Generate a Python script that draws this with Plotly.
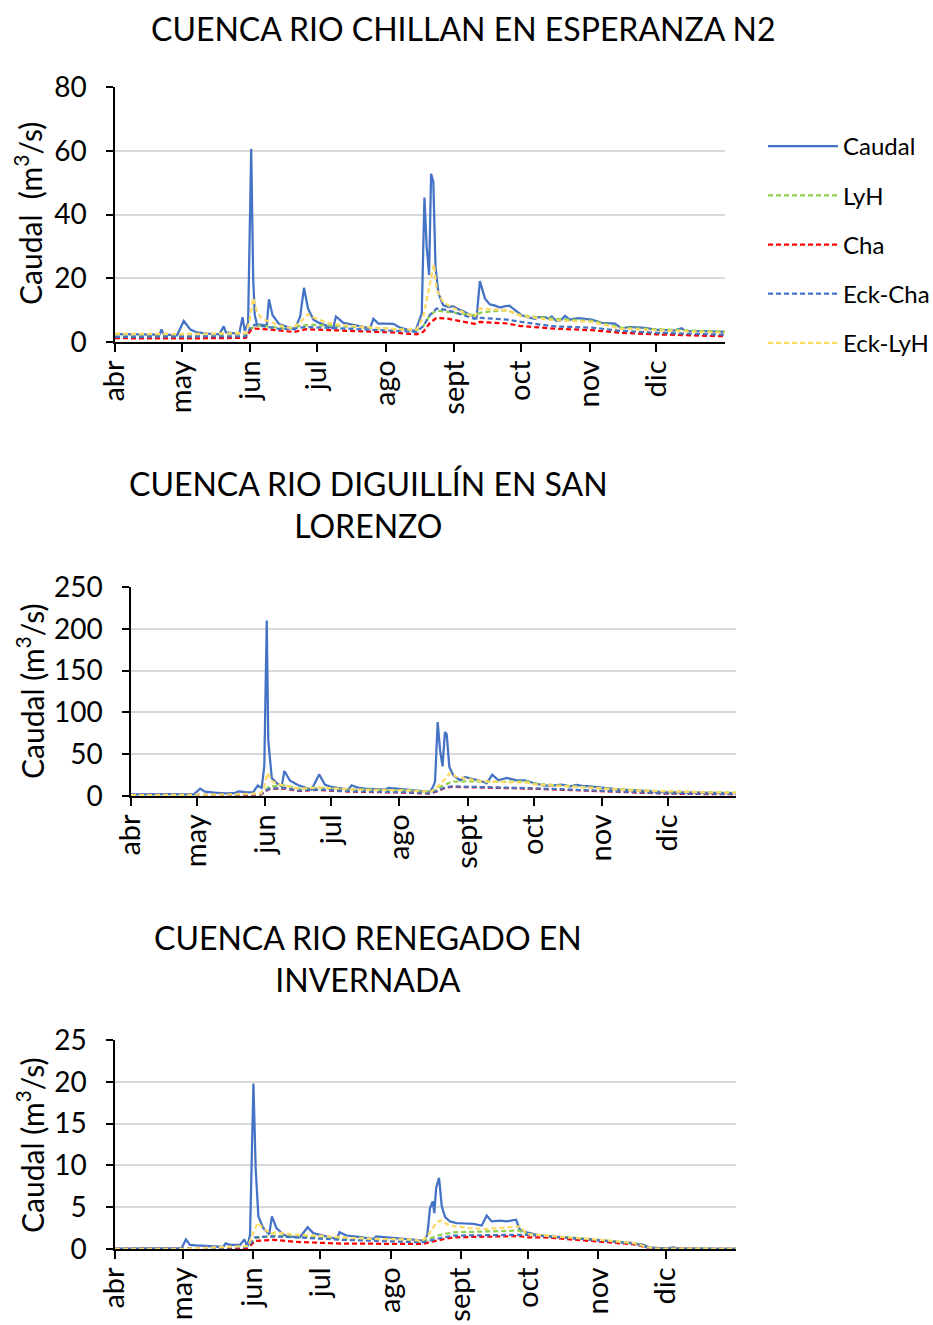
import pandas as pd
import plotly.graph_objects as go

START = pd.Timestamp("2019-04-01")
MONTH_TICKS = ["2019-04-01", "2019-05-01", "2019-06-01", "2019-07-01", "2019-08-01",
               "2019-09-01", "2019-10-01", "2019-11-01", "2019-12-01"]
MONTH_LABELS = ["abr", "may", "jun", "jul", "ago", "sept", "oct", "nov", "dic"]
SERIES = ["Caudal", "LyH", "Cha", "Eck-Cha", "Eck-LyH"]

# ---------- Plot 1: CUENCA RIO CHILLAN EN ESPERANZA N2 (day offset from 1 abr, m3/s)
p1_caudal_d = [0, 5, 10, 15, 20, 21, 22, 28, 31, 34, 37, 42, 47, 49, 50, 54, 56, 57.5, 58.5, 60, 61.4, 62.3, 63, 64, 66,
               68.4, 69.4, 71, 74, 78, 81, 83.5, 85.2, 87, 89.5, 92, 95.5, 98.4, 99.6, 103, 108, 112, 115, 116.5, 118.7,
               122, 125.5, 128.5, 132, 135.5, 137.5, 138.3, 139.5, 140.5, 141.6, 142.5, 143.5, 144.5, 145.8, 148, 150.3,
               152.5, 155, 157.8, 160, 163, 164.5, 166.8, 169, 171, 173.6, 175.5, 177.8, 180.3, 183.3, 186, 189.3, 191,
               193.9, 195.5, 196.9, 199, 201, 202.9, 205, 208.9, 212, 214.9, 219.4, 222, 225.4, 228.4, 231.5, 235, 239,
               243.5, 248, 252, 255.5, 257, 265, 270, 275]
p1_caudal_v = [2.5, 2.5, 2.4, 2.4, 2.3, 3.9, 2.4, 2.1, 6.6, 3.9, 3.0, 2.6, 2.4, 4.9, 3.0, 2.7, 2.7, 7.8, 3.5, 6.0, 60.6,
               20, 8.5, 5.5, 5.3, 5.2, 13.4, 8.5, 5.6, 4.6, 3.9, 8.0, 17.0, 10.5, 7.0, 6.0, 5.2, 4.3, 8.0, 6.0, 5.3, 4.8,
               4.3, 7.3, 5.8, 5.8, 5.7, 4.5, 3.8, 3.5, 8.0, 9.0, 45.3, 30, 21, 52.8, 50.2, 23.5, 15.2, 11.5, 11, 11.2,
               10.2, 9.4, 8.5, 7.6, 19.1, 13.6, 11.8, 11.5, 10.8, 11.2, 11.4, 10.0, 8.4, 7.8, 7.3, 7.8, 7.8, 7.3, 8.0,
               6.6, 6.8, 8.2, 7.0, 7.5, 7.2, 7.0, 6.0, 6.0, 5.8, 4.2, 4.7, 4.6, 4.4, 3.9, 3.7, 3.6, 4.3, 3.5, 3.4, 3.3,
               3.2]
p1_lyh_d = [0, 30, 59, 61, 63, 68, 72, 76, 80, 84, 90, 100, 110, 120, 130, 136, 139, 142, 145, 150, 158, 162, 165, 170,
            177, 183, 190, 198, 215, 228, 244, 260, 275]
p1_lyh_v = [2.4, 2.3, 2.6, 4.0, 5.2, 5.0, 4.6, 4.3, 4.5, 5.2, 5.4, 5.0, 4.6, 4.3, 3.9, 3.7, 5.0, 8.5, 9.9, 9.5, 8.8,
            8.4, 9.2, 9.7, 9.9, 8.4, 7.8, 7.3, 6.6, 4.5, 4.0, 3.6, 3.2]
p1_cha_d = [0, 30, 59, 61, 63, 70, 78, 81, 86, 95, 110, 125, 136, 139, 142, 145, 150, 162, 164.5, 177, 183, 198, 215,
            228, 244, 260, 275]
p1_cha_v = [1.2, 1.1, 1.3, 3.5, 4.2, 3.9, 3.3, 3.2, 4.0, 3.8, 3.3, 3.0, 2.4, 3.2, 6.0, 7.6, 7.3, 5.7, 6.3, 5.8, 5.0,
            4.2, 3.7, 2.9, 2.4, 2.1, 1.8]
p1_eckcha_d = [0, 30, 59, 61, 63, 68, 75, 80, 86, 95, 110, 125, 136, 139, 142, 145, 150, 162, 164.5, 177, 183, 198,
               215, 228, 244, 260, 275]
p1_eckcha_v = [1.6, 1.6, 1.8, 4.5, 5.4, 4.8, 4.0, 4.2, 4.7, 4.5, 4.0, 3.6, 3.2, 5.0, 8.5, 10.5, 10.0, 7.3, 7.6, 7.0,
               6.3, 4.9, 4.5, 3.5, 2.9, 2.6, 2.3]
p1_ecklyh_d = [0, 30, 59, 60.5, 62.3, 64, 66, 68, 72, 76, 80, 84, 87, 90, 95, 100, 110, 120, 130, 136, 139, 141, 143.8,
               145, 148, 152, 158, 162, 164.5, 170, 177, 183, 190, 198, 215, 228, 244, 260, 275]
p1_ecklyh_v = [2.6, 2.5, 2.8, 6.0, 13.8, 9.5, 7.5, 6.8, 5.8, 4.8, 4.3, 6.5, 8.7, 7.5, 6.2, 5.5, 4.8, 4.4, 3.9, 3.9,
               8.0, 15.0, 24.4, 16.3, 12.5, 10.8, 9.0, 7.8, 10.5, 10.3, 9.9, 8.2, 7.5, 6.8, 6.3, 4.2, 3.7, 3.3, 2.9]

# ---------- Plot 2: CUENCA RIO DIGUILLIN EN SAN LORENZO
p2_caudal_d = [0, 5, 10, 14, 18, 24, 28.6, 31.4, 33.6, 38, 42.7, 47, 48.8, 52, 55.5, 57.6, 59.4, 60.6, 61.7, 62.4,
               63.2, 64, 66.2, 68.5, 69.7, 72.3, 76.1, 80, 82.1, 85.5, 88.2, 91, 94.2, 98.8, 100.3, 103, 106.4, 111,
               115.5, 117, 121, 126.1, 131, 136, 137.4, 138.2, 139.4, 140.5, 141.6, 142.7, 143.5, 144.7, 146.5, 149.6,
               151.8, 154, 157.9, 161.7, 164.2, 167, 170.8, 175.3, 179.1, 182.9, 187.4, 191, 195.8, 199.5, 202.6, 205,
               208.6, 214.7, 222.3, 229.8, 235, 241.9, 248, 255.5, 260, 264.5, 270, 275]
p2_caudal_v = [1.8, 2.0, 2.2, 2.8, 2.2, 2.0, 2.0, 8.8, 5.2, 4.0, 3.2, 3.4, 5.6, 4.6, 4.4, 12.5, 9.6, 36.4, 210, 66.6,
               40, 21.5, 15.5, 11.5, 29.9, 18.3, 12.8, 9.5, 7.7, 25.8, 13.5, 11, 9.6, 7.7, 12.8, 10, 8.8, 8.5, 7.7, 9.6,
               8.5, 7.7, 6.5, 5.0, 11.5, 17.5, 88.5, 54.6, 35.5, 76.5, 73.7, 34.8, 24.8, 18.8, 22.8, 21, 18.8, 15.5,
               25.5, 18.8, 21.6, 18.8, 18.8, 15.5, 12.8, 12.5, 13.5, 11.5, 13.2, 12, 11.5, 9.8, 7.7, 6.6, 5.5, 4.5, 4.3,
               4.5, 4.0, 3.8, 3.5, 3.3]
p2_lyh_d = [0, 30, 59, 61, 63, 70, 76, 85, 100, 126, 136, 139, 142, 146, 152, 167, 180, 183, 200, 215, 244, 275]
p2_lyh_v = [1.0, 1.2, 2.5, 7.0, 11.5, 12.8, 8.8, 9.6, 7.8, 6.9, 5.0, 8.0, 13.0, 17.1, 17.6, 16.8, 17.6, 14.8, 11.6,
            8.8, 5.4, 4.0]
p2_cha_d = [0, 30, 59, 61, 63, 70, 76, 85, 100, 126, 136, 139, 143, 146, 152, 167, 180, 183, 200, 215, 244, 275]
p2_cha_v = [0.6, 0.8, 1.6, 5.5, 8.3, 9.0, 6.0, 7.2, 5.2, 4.0, 2.8, 5.5, 10.0, 11.0, 10.6, 9.9, 9.4, 8.7, 7.1, 5.5,
            2.8, 2.0]
p2_eckcha_d = [0, 30, 59, 61, 63, 70, 76, 85, 100, 126, 136, 139, 143, 146, 152, 167, 180, 183, 200, 215, 244, 275]
p2_eckcha_v = [0.8, 1.0, 2.0, 6.0, 8.8, 9.6, 6.5, 7.7, 5.7, 4.5, 3.2, 6.0, 10.5, 11.5, 11.1, 10.4, 9.9, 9.2, 7.6, 6.0,
               3.2, 2.4]
p2_ecklyh_d = [0, 30, 45, 59, 60.5, 62, 64, 67, 70, 76, 80, 85, 90, 100, 115, 126, 136, 138, 141, 145, 148, 152, 160,
               167, 180, 183, 200, 215, 230, 244, 260, 275]
p2_ecklyh_v = [1.0, 1.2, 1.8, 3.0, 10.0, 27.5, 18.0, 14.0, 12.8, 8.8, 9.0, 10.4, 9.5, 7.7, 7.0, 6.5, 5.0, 7.7, 15.0,
               27.5, 23.0, 20.8, 17.5, 16.8, 16.0, 14.0, 10.8, 8.8, 6.5, 5.2, 4.5, 4.0]

# ---------- Plot 3: CUENCA RIO RENEGADO EN INVERNADA
p3_caudal_d = [0, 10, 20, 29.5, 31.4, 33.2, 36, 39.1, 44, 47.9, 49, 51, 55.4, 57.3, 58.6, 59.8, 61.3, 62.3, 63.5, 65.7,
               68.3, 69.5, 71.5, 73.5, 76, 79, 81.9, 85.3, 87.8, 92.2, 95, 98.2, 99.4, 102.6, 106, 110, 114.4, 115.6,
               120.4, 125, 130.7, 136.6, 138.3, 139.5, 140.7, 141.4, 142.2, 143.5, 144.7, 146.2, 148.3, 151.3, 155,
               158.7, 162.4, 164.6, 166.8, 170.5, 173.5, 175.5, 177.6, 179.3, 182.3, 188.2, 197.1, 208.9, 217.7, 229.5,
               234, 236.9, 244.3, 247.2, 249.4, 260, 275]
p3_caudal_v = [0.05, 0.05, 0.05, 0.1, 1.15, 0.5, 0.42, 0.36, 0.3, 0.24, 0.68, 0.5, 0.48, 1.15, 0.28, 1.7, 19.8, 9.6,
               3.9, 2.5, 1.75, 3.9, 2.5, 2.0, 1.5, 1.45, 1.4, 2.6, 1.9, 1.6, 1.4, 1.2, 2.0, 1.6, 1.5, 1.4, 1.2, 1.5,
               1.4, 1.3, 1.1, 1.0, 1.7, 4.9, 5.7, 4.3, 7.3, 8.5, 5.1, 3.8, 3.3, 3.1, 3.05, 3.0, 2.8, 4.0, 3.3, 3.4, 3.3,
               3.4, 3.5, 2.3, 2.0, 1.6, 1.4, 1.1, 0.9, 0.7, 0.5, 0.16, 0.08, 0.2, 0.04, 0.02, 0.02]
p3_lyh_d = [0, 30, 40, 59, 62, 70, 80, 100, 130, 136, 140, 144, 150, 170, 179, 182, 190, 210, 230, 236, 240, 275]
p3_lyh_v = [0.02, 0.02, 0.1, 0.3, 1.3, 1.6, 1.5, 1.3, 1.1, 0.88, 1.3, 1.7, 2.0, 2.1, 2.2, 1.8, 1.6, 1.2, 0.7, 0.2,
            0.05, 0.02]
p3_cha_d = [0, 30, 40, 59, 62, 70, 80, 100, 130, 136, 144, 150, 179, 183, 190, 210, 230, 236, 240, 275]
p3_cha_v = [0.02, 0.02, 0.05, 0.15, 0.96, 1.1, 0.85, 0.65, 0.55, 0.6, 1.1, 1.4, 1.55, 1.4, 1.4, 1.0, 0.55, 0.15, 0.04,
            0.02]
p3_eckcha_d = [0, 30, 40, 59, 62, 70, 80, 100, 130, 136, 144, 150, 179, 183, 190, 210, 230, 236, 240, 275]
p3_eckcha_v = [0.02, 0.02, 0.08, 0.25, 1.4, 1.5, 1.4, 1.1, 0.8, 0.8, 1.3, 1.6, 1.7, 1.7, 1.55, 1.15, 0.65, 0.2, 0.05,
               0.02]
p3_ecklyh_d = [0, 30, 40, 59, 61, 63.2, 66, 69, 71.5, 80, 90, 100, 115, 130, 136, 139, 142, 144, 148.3, 157, 164.6,
               170, 179.3, 182.3, 190, 210, 230, 236, 240, 275]
p3_ecklyh_v = [0.02, 0.02, 0.15, 0.35, 1.8, 3.15, 2.4, 1.85, 2.0, 1.7, 1.6, 1.4, 1.2, 1.15, 0.96, 1.8, 3.0, 3.43, 2.8,
               2.5, 2.4, 2.5, 2.7, 1.8, 1.6, 1.2, 0.7, 0.2, 0.05, 0.02]

TITLES = ["CUENCA RIO CHILLAN EN ESPERANZA N2", "CUENCA RIO DIGUILLÍN EN SAN<br>LORENZO",
          "CUENCA RIO RENEGADO EN<br>INVERNADA"]
YTITLES = ["Caudal  (m<sup>3</sup>/s)", "Caudal (m<sup>3</sup>/s)", "Caudal (m<sup>3</sup>/s)"]
Y_MAX = [80, 250, 25]
Y_DTICK = [20, 50, 5]

PLOTS = [
    [(p1_caudal_d, p1_caudal_v), (p1_lyh_d, p1_lyh_v), (p1_cha_d, p1_cha_v), (p1_eckcha_d, p1_eckcha_v),
     (p1_ecklyh_d, p1_ecklyh_v)],
    [(p2_caudal_d, p2_caudal_v), (p2_lyh_d, p2_lyh_v), (p2_cha_d, p2_cha_v), (p2_eckcha_d, p2_eckcha_v),
     (p2_ecklyh_d, p2_ecklyh_v)],
    [(p3_caudal_d, p3_caudal_v), (p3_lyh_d, p3_lyh_v), (p3_cha_d, p3_cha_v), (p3_eckcha_d, p3_eckcha_v),
     (p3_ecklyh_d, p3_ecklyh_v)],
]

COLORS = ["#4472C4", "#92D050", "#FF0000", "#4472C4", "#FFD966"]
DASHES = ["solid", "5px,3px", "5px,3px", "5px,3px", "5px,3px"]
WIDTHS = [2.25, 2.25, 2.25, 2.25, 2.25]

W, H = 933, 1325
FONT = "Lato"

# pixel layout of each plot area: (x0, x1, ytop, ybottom)
AREAS = [(115, 725, 87, 342), (131, 736, 587, 796), (115, 736, 1040, 1249)]
TITLE_POS = [(463, 28), (368, 504), (368, 958)]
YTITLE_POS = [(28, 214), (30, 691), (30, 1145)]


def to_dates(days):
    return [START + pd.Timedelta(hours=d * 24) for d in days]


fig = go.Figure()
layout = {}
for i, series in enumerate(PLOTS):
    n = "" if i == 0 else str(i + 1)
    for j, (d, v) in enumerate(series):
        fig.add_trace(go.Scatter(
            x=to_dates(d), y=v, mode="lines", name=SERIES[j],
            line=dict(color=COLORS[j], width=WIDTHS[j], dash=DASHES[j]),
            xaxis="x" + n, yaxis="y" + n,
            showlegend=(i == 0), legendgroup=SERIES[j],
        ))
    x0, x1, yt, yb = AREAS[i]
    layout["xaxis" + n] = dict(
        domain=[x0 / W, x1 / W], anchor="y" + n, type="date",
        range=["2019-04-01", "2020-01-01"], tickvals=MONTH_TICKS, ticktext=MONTH_LABELS,
        tickangle=-90, ticks="outside", ticklen=8, tickwidth=1.5, tickcolor="black",
        ticklabelstandoff=-3,
        showline=True, linecolor="black", linewidth=1.5, showgrid=False, zeroline=False,
        tickfont=dict(family=FONT, size=29, color="black"),
    )
    layout["yaxis" + n] = dict(
        domain=[1 - yb / H, 1 - yt / H], anchor="x" + n, range=[0, Y_MAX[i]], dtick=Y_DTICK[i],
        ticks="outside", ticklen=7, tickwidth=1.5, tickcolor="black", ticklabelstandoff=14,
        showline=True, linecolor="black", linewidth=1.5,
        showgrid=True, gridcolor="#D9D9D9", gridwidth=2, zeroline=False,
        tickfont=dict(family=FONT, size=28, color="black"),
    )

annotations = []
for i in range(3):
    tx, ty = TITLE_POS[i]
    annotations.append(dict(text=TITLES[i], x=tx / W, y=1 - ty / H, xref="paper", yref="paper",
                            xanchor="center", yanchor="middle", showarrow=False,
                            font=dict(family=FONT, size=32, color="black")))
    ax, ay = YTITLE_POS[i]
    annotations.append(dict(text=YTITLES[i], x=ax / W, y=1 - ay / H, xref="paper", yref="paper",
                            xanchor="center", yanchor="middle", showarrow=False, textangle=-90,
                            font=dict(family=FONT, size=30, color="black")))

fig.update_layout(
    width=W, height=H, margin=dict(l=0, r=0, t=0, b=0, autoexpand=False),
    paper_bgcolor="white", plot_bgcolor="white",
    showlegend=True,
    legend=dict(x=763 / W, y=1 - 124 / H, xanchor="left", yanchor="top",
                font=dict(family=FONT, size=24, color="black"),
                tracegroupgap=15, itemwidth=70, bgcolor="rgba(0,0,0,0)"),
    annotations=annotations,
    **layout,
)

fig.write_html("out.html", config={"displayModeBar": False},
               post_script="document.body.style.margin='0px';")
